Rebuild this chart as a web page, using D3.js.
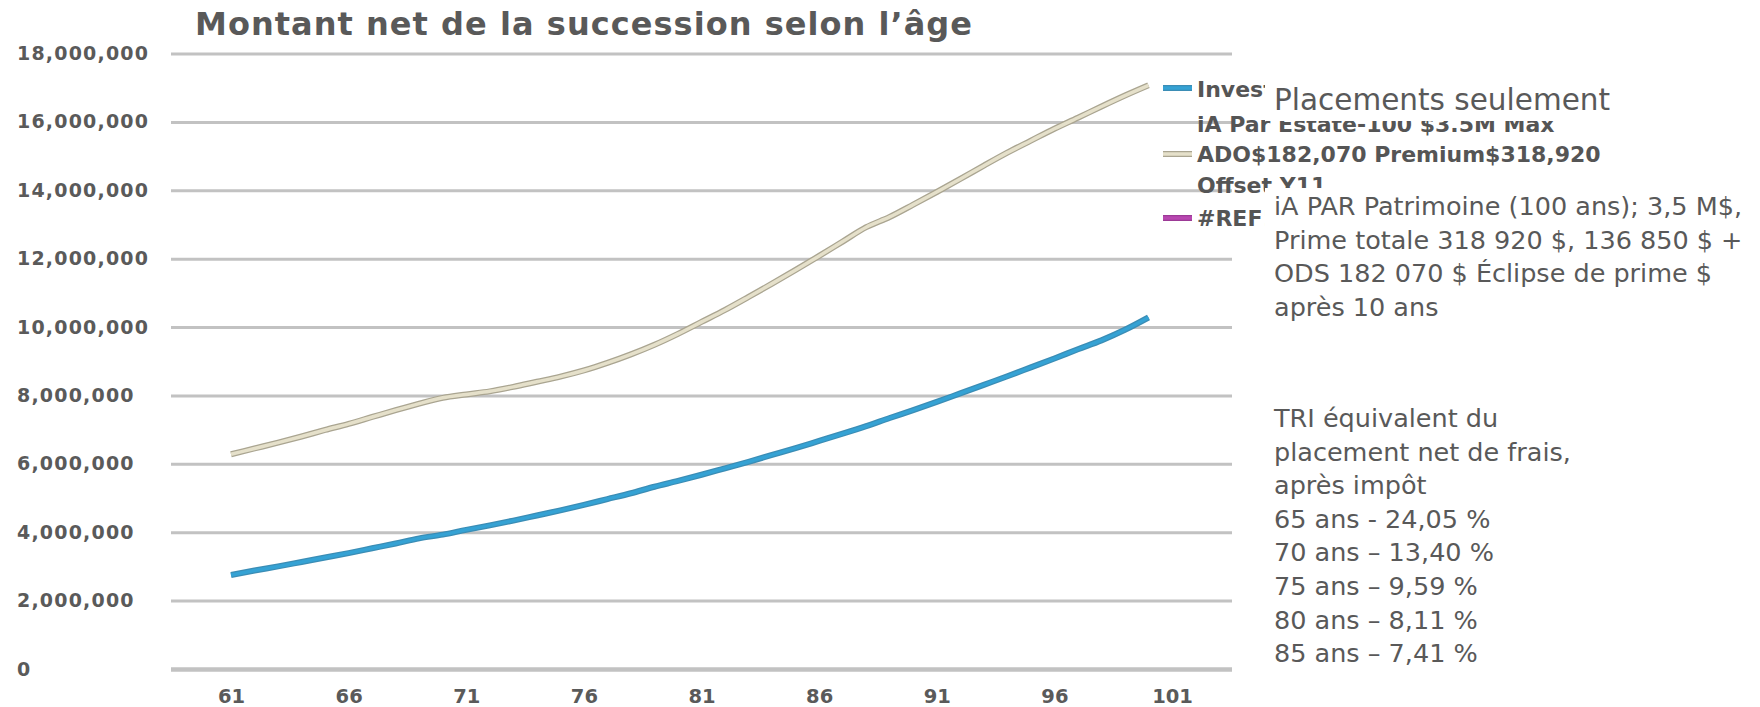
<!DOCTYPE html>
<html>
<head>
<meta charset="utf-8">
<script src="https://cdn.jsdelivr.net/npm/d3@7/dist/d3.min.js"></script>
<style>
  body { margin: 0; background: #fff; }
  svg { display: block; }
</style>
</head>
<body>
<div id="container"></div>
<script>

// ---- data ----
const ages = [61, 62, 63, 64, 65, 66, 67, 68, 69, 70,
              71, 72, 73, 74, 75, 76, 77, 78, 79, 80,
              81, 82, 83, 84, 85, 86, 87, 88, 89, 90,
              91, 92, 93, 94, 95, 96, 97, 98, 99, 100];

// "Investments Only" (blue)
const investments = [2.75, 2.88, 3.00, 3.13, 3.26, 3.39, 3.53, 3.67, 3.82, 3.93,
                     4.07, 4.20, 4.34, 4.49, 4.64, 4.80, 4.97, 5.14, 5.33, 5.50,
                     5.68, 5.87, 6.06, 6.26, 6.46, 6.67, 6.88, 7.10, 7.34, 7.57,
                     7.81, 8.06, 8.31, 8.56, 8.82, 9.08, 9.35, 9.61, 9.92, 10.28].map(v => v * 1e6);

// "iA Par Estate-100 ..." (beige)
const iaPar = [6.28, 6.45, 6.62, 6.80, 6.99, 7.17, 7.37, 7.57, 7.76, 7.93,
               8.03, 8.12, 8.25, 8.40, 8.55, 8.73, 8.95, 9.20, 9.48, 9.80,
               10.15, 10.50, 10.88, 11.27, 11.67, 12.08, 12.50, 12.92, 13.22, 13.58,
               13.95, 14.33, 14.72, 15.10, 15.45, 15.80, 16.12, 16.45, 16.77, 17.07].map(v => v * 1e6);

const xTicks = [61, 66, 71, 76, 81, 86, 91, 96, 101];
const yTicks = [0, 2e6, 4e6, 6e6, 8e6, 10e6, 12e6, 14e6, 16e6, 18e6];

const title = "Montant net de la succession selon l\u2019âge";

const legendLines = [
  "Investments Only",
  "iA Par Estate-100 $3.5M Max",
  "ADO$182,070 Premium$318,920",
  "Offset Y11",
  "#REF!"
];

const noteTitle = "Placements seulement";
const noteProduct = [
  "iA PAR Patrimoine (100 ans); 3,5 M$,",
  "Prime totale 318 920 $, 136 850 $ +",
  "ODS 182 070 $ Éclipse de prime $",
  "après 10 ans"
];
const noteIrr = [
  "TRI équivalent du",
  "placement net de frais,",
  "après impôt",
  "65 ans - 24,05 %",
  "70 ans \u2013 13,40 %",
  "75 ans \u2013 9,59 %",
  "80 ans \u2013 8,11 %",
  "85 ans \u2013 7,41 %"
];

// ---- layout ----
const width = 1760;
const height = 707;
const plotLeft = 171;
const plotRight = 1232;
const plotTop = 53.5;
const plotBottom = 669;
const textGray = "#595959";
const boldFont = "DejaVu Sans, sans-serif";

const x = d3.scaleLinear()
    .domain([61, 101])
    .range([231, 1172]);

const y = d3.scaleLinear()
    .domain([0, 18e6])
    .range([plotBottom, plotTop]);

const svg = d3.create("svg")
    .attr("width", width)
    .attr("height", height);

// title
svg.append("text")
    .attr("x", 195)
    .attr("y", 35)
    .attr("font-family", boldFont)
    .attr("font-weight", "bold")
    .attr("font-size", 32)
    .attr("fill", textGray)
    .attr("textLength", 777)
    .text(title);

// y axis with gridlines
const yAxis = svg.append("g")
    .attr("transform", `translate(${plotLeft},0)`)
    .call(d3.axisLeft(y)
        .tickValues(yTicks)
        .tickSize(-(plotRight - plotLeft))
        .tickFormat(d3.format(",")));

yAxis.select(".domain").remove();
yAxis.selectAll(".tick line")
    .attr("stroke", "#c2c2c2")
    .attr("stroke-width", d => d === 0 ? 4.5 : 3);
yAxis.selectAll(".tick text")
    .attr("x", 17 - plotLeft)
    .attr("text-anchor", "start")
    .attr("font-family", boldFont)
    .attr("font-weight", "bold")
    .attr("font-size", 19)
    .attr("letter-spacing", 1.2)
    .attr("fill", "#5a5a5a");

// x axis
const xAxis = svg.append("g")
    .attr("transform", `translate(0,${plotBottom})`)
    .call(d3.axisBottom(x).tickValues(xTicks).tickSize(0).tickPadding(20));

xAxis.select(".domain").remove();
xAxis.selectAll(".tick text")
    .attr("font-family", boldFont)
    .attr("font-weight", "bold")
    .attr("font-size", 19.5)
    .attr("fill", "#5a5a5a");

// lines
const line = d3.line()
    .x((d, i) => x(ages[i]))
    .y(d => y(d))
    .curve(d3.curveMonotoneX);

svg.append("path")
    .attr("fill", "none")
    .attr("stroke", "#aaa591")
    .attr("stroke-width", 6)
    .attr("d", line(iaPar));
svg.append("path")
    .attr("fill", "none")
    .attr("stroke", "#e5e0ca")
    .attr("stroke-width", 3.5)
    .attr("d", line(iaPar));

svg.append("path")
    .attr("fill", "none")
    .attr("stroke", "#3b8db5")
    .attr("stroke-width", 6)
    .attr("d", line(investments));
svg.append("path")
    .attr("fill", "none")
    .attr("stroke", "#35a2d4")
    .attr("stroke-width", 3.5)
    .attr("d", line(investments));

// legend
const legend = svg.append("g")
    .attr("font-family", boldFont)
    .attr("font-weight", "bold")
    .attr("font-size", 22)
    .attr("fill", "#555");

const legendBaselines = [97, 132, 162, 193, 226];
legend.selectAll("text")
    .data(legendLines)
    .join("text")
    .attr("x", 1197)
    .attr("y", (d, i) => legendBaselines[i])
    .text(d => d);

const swatches = [
  { y: 88, outer: "#3b8db5", inner: "#35a2d4" },
  { y: 154, outer: "#aaa591", inner: "#e5e0ca" },
  { y: 218, outer: "#9c3a96", inner: "#b847b0" }
];
swatches.forEach(s => {
  legend.append("line")
      .attr("x1", 1163).attr("x2", 1192)
      .attr("y1", s.y).attr("y2", s.y)
      .attr("stroke", s.outer).attr("stroke-width", 6);
  legend.append("line")
      .attr("x1", 1163).attr("x2", 1192)
      .attr("y1", s.y).attr("y2", s.y)
      .attr("stroke", s.inner).attr("stroke-width", 3.5);
});

// text boxes pasted over the legend
svg.append("rect")
    .attr("x", 1265).attr("y", 70)
    .attr("width", width - 1265).attr("height", 51)
    .attr("fill", "#fff");
svg.append("rect")
    .attr("x", 1265).attr("y", 188)
    .attr("width", width - 1265).attr("height", 140)
    .attr("fill", "#fff");

const noteFont = "DejaVu Sans, sans-serif";

svg.append("text")
    .attr("x", 1274)
    .attr("y", 110)
    .attr("font-family", noteFont)
    .attr("font-size", 29.5)
    .attr("fill", textGray)
    .text(noteTitle);

svg.append("g")
    .attr("font-family", noteFont)
    .attr("font-size", 25.5)
    .attr("fill", textGray)
    .selectAll("text")
    .data(noteProduct)
    .join("text")
    .attr("x", 1274)
    .attr("y", (d, i) => 215 + i * 33.5)
    .text(d => d);

svg.append("g")
    .attr("font-family", noteFont)
    .attr("font-size", 25.5)
    .attr("fill", textGray)
    .selectAll("text")
    .data(noteIrr)
    .join("text")
    .attr("x", 1274)
    .attr("y", (d, i) => 427 + i * 33.6)
    .text(d => d);

container.append(svg.node());
</script>
</body>
</html>
